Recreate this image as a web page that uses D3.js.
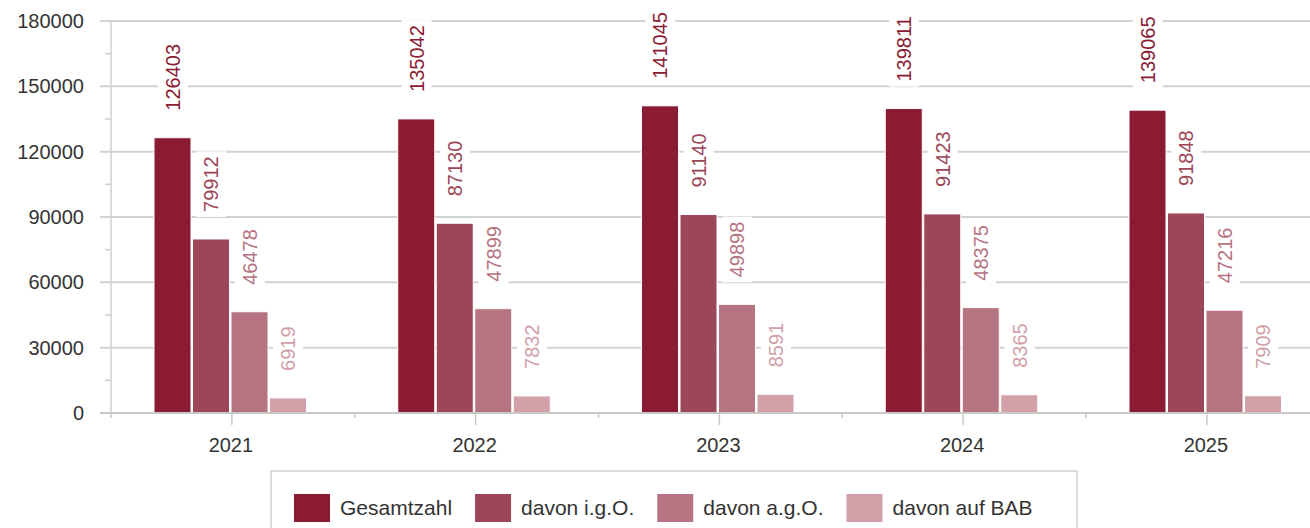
<!DOCTYPE html>
<html>
<head>
<meta charset="utf-8">
<script src="https://cdn.jsdelivr.net/npm/d3@7/dist/d3.min.js"></script>
<style>
  html, body { margin: 0; padding: 0; background: #fff; }
  svg { display: block; font-family: Arial, "Liberation Sans", sans-serif; }
</style>
</head>
<body>
<div id="chart"></div>
<script>
var width = 1310,
    height = 528;

// data
const years = ["2021", "2022", "2023", "2024", "2025"];
const series = ["Gesamtzahl", "davon i.g.O.", "davon a.g.O.", "davon auf BAB"];
const gesamtzahl = [126403, 135042, 141045, 139811, 139065];
const innerorts = [79912, 87130, 91140, 91423, 91848];
const ausserorts = [46478, 47899, 49898, 48375, 47216];
const autobahn = [6919, 7832, 8591, 8365, 7909];
const yTicks = [0, 30000, 60000, 90000, 120000, 150000, 180000];
const colors = ["#8a1b33", "#9c4759", "#b67381", "#d1a0a9"];

const values = [gesamtzahl, innerorts, ausserorts, autobahn];

var svg = d3.select("#chart").append("svg")
  .attr("width", width)
  .attr("height", height);

// plot area runs a bit past the right edge, like the screenshot
var x0 = d3.scaleBand().domain(years).range([110, 110 + 5 * 243.75]);
var x1 = d3.scaleBand().domain(series).range([44, 44 + 154]);
var y = d3.scaleLinear().domain([0, 180000]).range([413, 21]);

// grid lines
svg.append("g")
  .selectAll("line")
  .data(yTicks)
  .join("line")
    .attr("x1", 100)
    .attr("x2", width)
    .attr("y1", d => y(d))
    .attr("y2", d => y(d))
    .attr("stroke", "#d2d2d2")
    .attr("stroke-width", 2);

// minor y ticks
svg.append("g")
  .selectAll("line")
  .data(d3.range(15000, 180000, 30000))
  .join("line")
    .attr("x1", 105)
    .attr("x2", 111)
    .attr("y1", d => y(d))
    .attr("y2", d => y(d))
    .attr("stroke", "#cfcfcf")
    .attr("stroke-width", 1.5);

// y axis line
svg.append("line")
  .attr("x1", 111).attr("x2", 111)
  .attr("y1", y(180000)).attr("y2", y(0))
  .attr("stroke", "#cfcfcf")
  .attr("stroke-width", 1.5);

// y labels
svg.append("g")
  .selectAll("text")
  .data(yTicks)
  .join("text")
    .attr("x", 84)
    .attr("y", d => y(d))
    .attr("dy", "0.35em")
    .attr("text-anchor", "end")
    .attr("fill", "#333")
    .attr("font-size", 20)
    .text(d => d);

// x ticks: long at category centres, short at boundaries
svg.append("g")
  .selectAll("line")
  .data(years)
  .join("line")
    .attr("x1", d => x0(d) + x0.bandwidth() / 2)
    .attr("x2", d => x0(d) + x0.bandwidth() / 2)
    .attr("y1", 413)
    .attr("y2", 425)
    .attr("stroke", "#c8c8c8")
    .attr("stroke-width", 1.5);

svg.append("g")
  .selectAll("line")
  .data(years)
  .join("line")
    .attr("x1", d => x0(d) + 1)
    .attr("x2", d => x0(d) + 1)
    .attr("y1", 413)
    .attr("y2", 418)
    .attr("stroke", "#c8c8c8")
    .attr("stroke-width", 1.5);

// x labels
svg.append("g")
  .selectAll("text")
  .data(years)
  .join("text")
    .attr("x", d => x0(d) + x0.bandwidth() / 2 - 1)
    .attr("y", 452)
    .attr("text-anchor", "middle")
    .attr("fill", "#333")
    .attr("font-size", 20)
    .text(d => d);

// bars
var groups = svg.append("g")
  .selectAll("g")
  .data(years)
  .join("g")
    .attr("transform", d => "translate(" + x0(d) + ",0)");

groups.selectAll("rect")
  .data((d, i) => series.map((s, k) => ({ s: s, k: k, v: values[k][i] })))
  .join("rect")
    .attr("x", d => x1(d.s))
    .attr("y", d => y(d.v))
    .attr("width", x1.bandwidth() - 1.5)
    .attr("height", d => y(0) - y(d.v))
    .attr("fill", d => colors[d.k])
    .attr("stroke", "#fff")
    .attr("stroke-width", 1);

// data labels, rotated, with white box that cuts the grid lines
var labels = groups.selectAll("g.lbl")
  .data((d, i) => series.map((s, k) => ({ s: s, k: k, v: values[k][i] })))
  .join("g")
    .attr("class", "lbl")
    .attr("transform", d => "translate(" + (x1(d.s) + x1.bandwidth() / 2 - 0.5) + "," + (y(d.v) - 27) + ") rotate(-90)");

labels.append("text")
  .attr("x", 0)
  .attr("y", 0)
  .attr("dy", "0.35em")
  .attr("fill", d => colors[d.k])
  .attr("font-size", 20)
  .text(d => d.v);

labels.each(function() {
  var g = d3.select(this);
  var len = g.select("text").node().getComputedTextLength();
  g.insert("rect", "text")
    .attr("x", -5)
    .attr("y", -15)
    .attr("width", len + 10)
    .attr("height", 30)
    .attr("fill", "#fff");
});

// x axis line on top
svg.append("line")
  .attr("x1", 100).attr("x2", width)
  .attr("y1", 413).attr("y2", 413)
  .attr("stroke", "#c8c8c8")
  .attr("stroke-width", 2);

// legend
svg.append("rect")
  .attr("x", 271)
  .attr("y", 471)
  .attr("width", 806)
  .attr("height", 80)
  .attr("fill", "#fff")
  .attr("stroke", "#d0d0d0")
  .attr("stroke-width", 1.5);

var lx = 294;
series.forEach(function(s, k) {
  svg.append("rect")
    .attr("x", lx)
    .attr("y", 494)
    .attr("width", 36)
    .attr("height", 28)
    .attr("fill", colors[k]);
  var t = svg.append("text")
    .attr("x", lx + 46)
    .attr("y", 508)
    .attr("dy", "0.35em")
    .attr("fill", "#333")
    .attr("font-size", 21)
    .text(s);
  lx += 46 + t.node().getComputedTextLength() + 23;
});
</script>
</body>
</html>
